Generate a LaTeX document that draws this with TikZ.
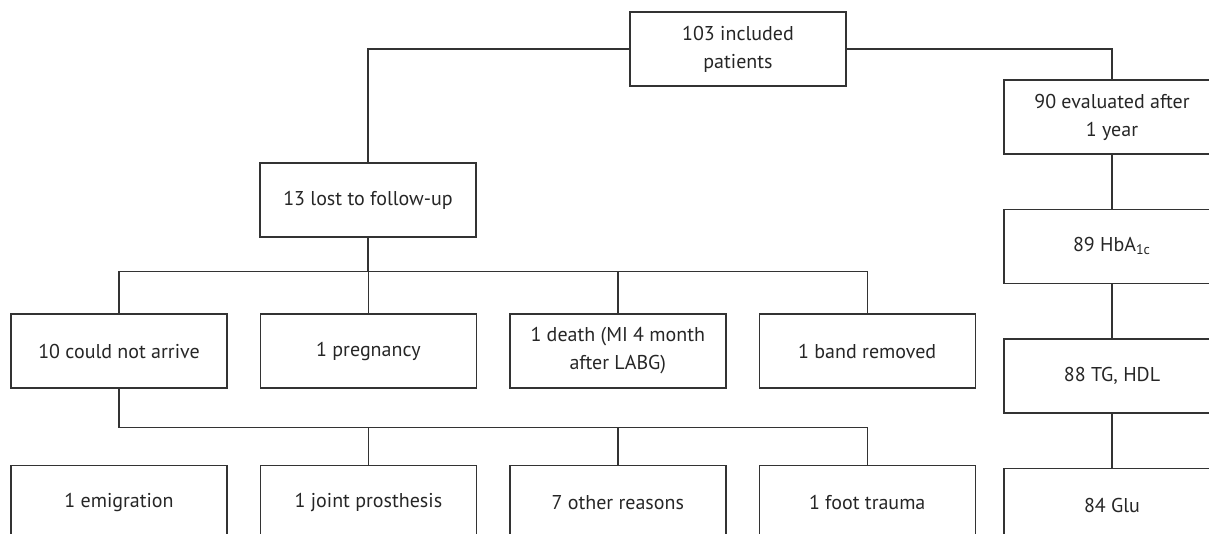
\documentclass[tikz,border=0pt]{standalone}
\usepackage{fontspec}
\setmainfont{PT Sans}
\usepackage{tikz}
\usetikzlibrary{positioning}

\begin{document}
\begin{tikzpicture}[
    x=0.5pt, y=-0.5pt,
    node distance=27pt and 16pt,
    box/.style={rectangle, draw=black!80, line width=0.7pt, minimum height=37pt, minimum width=108pt, inner sep=2pt, align=center, text=black!85, font=\fontsize{10}{14}\selectfont},
    link/.style={draw=black!80, line width=0.7pt},
]
\useasboundingbox (0,0) rectangle (1209,534);

% Included
\node[box] (incl) at (738,49) {103 included\\patients};

% Lost to follow-up
\node[box] (lost) at (368,200) {13 lost to follow-up};

% Reasons (first row)
\node[box] (noarrive) at (119,351) {10 could not arrive};
\node[box, right=of noarrive] (pregn) {1 pregnancy};
\node[box, right=of pregn] (death) {1 death (MI 4 month\\after LABG)};
\node[box, right=of death] (band) {1 band removed};

% Could not arrive (second row)
\node[box, below=38pt of noarrive] (emigr) {1 emigration};
\node[box, right=of emigr] (joint) {1 joint prosthesis};
\node[box, right=of joint] (other) {7 other reasons};
\node[box, right=of other] (foot) {1 foot trauma};

% Evaluated after 1 year
\node[box] (eval) at (1112,117) {90 evaluated after\\1 year};
\node[box, below=of eval] (hba) {89 HbA\textsubscript{1c}};
\node[box, below=of hba] (tghdl) {88 TG, HDL};
\node[box, below=of tghdl] (glu) {84 Glu};

% Bus lines
\coordinate (busA) at ([yshift=21pt]pregn.north);
\coordinate (busB) at ([yshift=18.5pt]joint.north);

% Connectors
\draw[link] (incl.west) -| (lost.north);
\draw[link] (incl.east) -| (eval.north);
\draw[link] (eval) -- (hba);
\draw[link] (hba) -- (tghdl);
\draw[link] (tghdl) -- (glu);

\draw[link] (lost.south) -- (lost.south |- busA);
\draw[link] (noarrive.north) -- (noarrive.north |- busA) -| (band.north);
\draw[link] (pregn.north) -- (pregn.north |- busA);
\draw[link] (death.north) -- (death.north |- busA);

\draw[link] (noarrive.south) -- (noarrive.south |- busB) -| (foot.north);
\draw[link] (joint.north) -- (joint.north |- busB);
\draw[link] (other.north) -- (other.north |- busB);

\end{tikzpicture}
\end{document}
